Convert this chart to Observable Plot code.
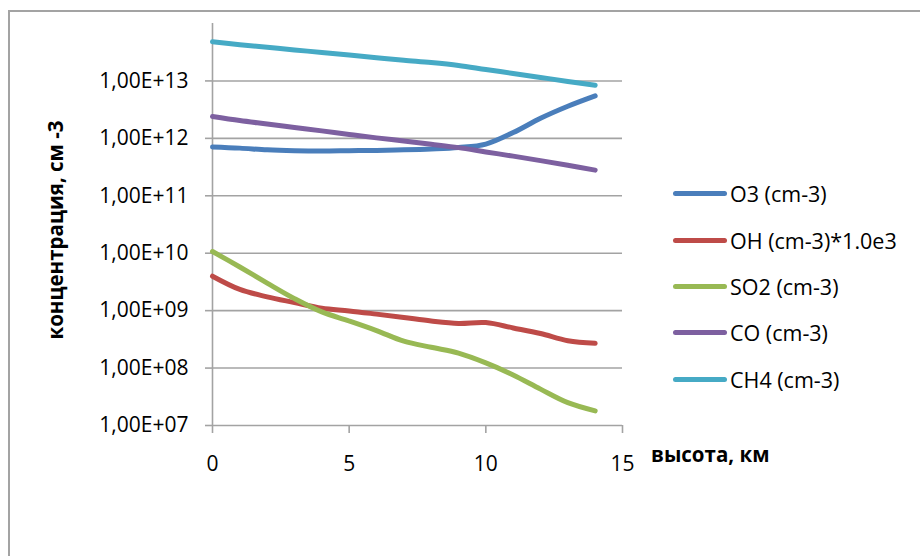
<!DOCTYPE html>
<html>
<head>
<meta charset="utf-8">
<script src="https://cdn.jsdelivr.net/npm/d3@7"></script>
<script src="https://cdn.jsdelivr.net/npm/@observablehq/plot@0.6"></script>
<style>
  html, body { margin: 0; padding: 0; background: #fff; }
  #wrap { position: relative; width: 920px; height: 556px; overflow: hidden; font-family: "Open Sans", sans-serif; }
  #wrap svg { position: absolute; left: 0; top: 0; }
  #frame { position: absolute; left: 8px; top: 10px; width: 960px; height: 600px;
           border-left: 2px solid #a3a3a3; border-top: 2px solid #a3a3a3; }
  .title { position: absolute; font-weight: 700; font-size: 20.5px; color: #000; white-space: nowrap; }
  #ytitle { left: 55px; top: 230px; transform: translate(-50%, -50%) rotate(-90deg); }
  #xtitle { left: 651px; top: 440px; }
  #legend { position: absolute; left: 673px; top: 0; }
  .item { position: absolute; left: 0; white-space: nowrap; font-size: 21.5px; color: #000; display: flex; align-items: center; }
  .swatch { width: 54px; height: 5px; border-radius: 3px; margin-right: 3px; }
</style>
</head>
<body>
<div id="wrap">
  <div id="frame"></div>
  <div id="ytitle" class="title">концентрация, см -3</div>
  <div id="xtitle" class="title">высота, км</div>
  <div id="legend"></div>
</div>
<script>
// Altitude, km
const heights = [0, 1, 2, 3, 4, 5, 6, 7, 8, 9, 10, 11, 12, 13, 14];

// Number densities, cm^-3 (OH scaled by 1.0e3)
const o3  = [7.08e11, 6.76e11, 6.31e11, 6.10e11, 6.03e11, 6.10e11, 6.17e11, 6.31e11, 6.53e11, 6.92e11, 7.94e11, 1.26e12, 2.24e12, 3.63e12, 5.50e12];
const oh  = [3.98e9, 2.34e9, 1.74e9, 1.38e9, 1.10e9, 9.9e8, 8.7e8, 7.6e8, 6.6e8, 6.0e8, 6.2e8, 5.0e8, 4.0e8, 3.0e8, 2.7e8];
const so2 = [1.07e10, 5.75e9, 3.02e9, 1.62e9, 9.5e8, 6.6e8, 4.5e8, 2.95e8, 2.3e8, 1.82e8, 1.23e8, 7.6e7, 4.3e7, 2.5e7, 1.8e7];
const co  = [2.40e12, 2.04e12, 1.78e12, 1.55e12, 1.35e12, 1.17e12, 1.02e12, 9.0e11, 7.9e11, 6.9e11, 5.8e11, 4.9e11, 4.1e11, 3.4e11, 2.8e11];
const ch4 = [4.79e13, 4.27e13, 3.85e13, 3.47e13, 3.13e13, 2.82e13, 2.54e13, 2.29e13, 2.09e13, 1.86e13, 1.58e13, 1.35e13, 1.15e13, 9.8e12, 8.4e12];

const seriesNames  = ["O3 (cm-3)", "OH (cm-3)*1.0e3", "SO2 (cm-3)", "CO (cm-3)", "CH4 (cm-3)"];
const seriesValues = [o3, oh, so2, co, ch4];
const seriesColors = ["#4a7ebb", "#be4b48", "#98b954", "#7d60a0", "#46aac5"];

const xTicks = [0, 5, 10, 15];
const yTicks = [1e7, 1e8, 1e9, 1e10, 1e11, 1e12, 1e13];

// Long table for the line mark
const rows = seriesNames.flatMap((name, i) =>
  heights.map((h, j) => ({series: name, height: h, value: seriesValues[i][j]})));

const expFormat = d => "1,00E+" + String(Math.round(Math.log10(d))).padStart(2, "0");
const gridColor = "#a3a3a3";

const chart = Plot.plot({
  width: 920,
  height: 556,
  marginLeft: 212,
  marginRight: 298,
  marginTop: 23,
  marginBottom: 131,
  style: {fontFamily: "'Open Sans', sans-serif", fontSize: "21px", color: "#000", background: "transparent"},
  x: {domain: [0, 15]},
  y: {type: "log", domain: [1e7, 1e14]},
  color: {domain: seriesNames, range: seriesColors},
  marks: [
    Plot.ruleY(yTicks, {x1: 0, x2: 15, stroke: gridColor, strokeWidth: 1.6}),
    Plot.ruleX([0], {y1: 1e7, y2: 1e14, stroke: gridColor, strokeWidth: 1.6}),
    Plot.axisY({ticks: yTicks, tickSize: 7, tickPadding: 17, tickFormat: expFormat,
                stroke: gridColor, strokeWidth: 1.6, fill: "#000", label: null}),
    Plot.axisX({ticks: xTicks, tickSize: 8, tickPadding: 23, tickFormat: d => String(d),
                stroke: gridColor, strokeWidth: 1.6, fill: "#000", label: null}),
    Plot.line(rows, {x: "height", y: "value", z: "series", stroke: "series",
                     curve: "catmull-rom", strokeWidth: 5, strokeLinecap: "round", strokeLinejoin: "round"})
  ]
});
document.getElementById("wrap").insertBefore(chart, document.getElementById("frame"));

// Legend on the right of the plot area
const legendRows = [193, 240, 286, 332, 379];
const legend = document.getElementById("legend");
seriesNames.forEach((name, i) => {
  const item = document.createElement("div");
  item.className = "item";
  item.style.top = (legendRows[i] - 15) + "px";
  item.style.height = "30px";
  const sw = document.createElement("span");
  sw.className = "swatch";
  sw.style.background = seriesColors[i];
  const label = document.createElement("span");
  label.textContent = name;
  item.appendChild(sw);
  item.appendChild(label);
  legend.appendChild(item);
});
</script>
</body>
</html>
